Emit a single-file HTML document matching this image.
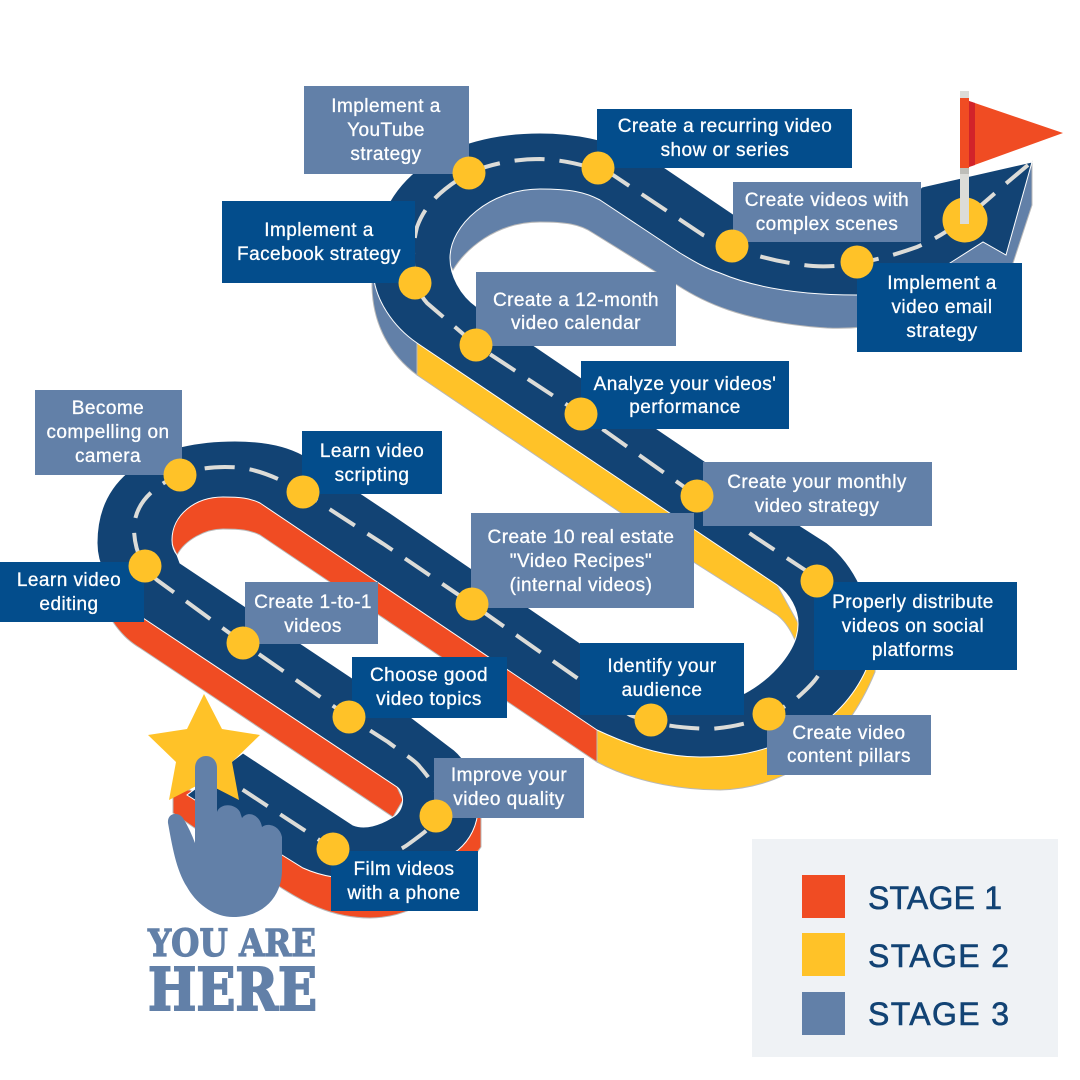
<!DOCTYPE html>
<html><head><meta charset="utf-8"><style>
html,body{margin:0;padding:0;background:#fff}
svg{display:block}
.t text{font-family:"Liberation Sans",sans-serif;font-size:19px;letter-spacing:.45px;fill:#fff;text-anchor:middle;stroke:#fff;stroke-width:.3px}
.l{fill:#6280a8}.d{fill:#034d8c}
.dot circle{fill:#ffc228}
</style></head><body>
<svg width="1080" height="1080" viewBox="0 0 1080 1080" xmlns="http://www.w3.org/2000/svg">
<rect width="1080" height="1080" fill="#fff"/>
<!-- side faces -->
<g stroke="#b9b9b9" stroke-width="1">
<path fill="#6280a8" d="M453 270C465 250 495 222 540 222C565 222 580 224 593 233L677 285C700 300 740 322 827 328C870 330 900 322 950 300L1013 263L1032 205L1032 162L983 230L860 280L720 260L680 245L600 192C585 185 565 184 540 184C488 184 446 225 448 262Z"/>
<path fill="#6280a8" d="M417 343L417 375C390 355 373 325 372 287L372 268L400 300Z"/>
<path fill="#ffc228" d="M417 343L417 375L695 563L777 615C785 621 792 632 797 645L798 623L777 585L695 530Z"/>
<path fill="#ffc228" d="M597 730L597 762C640 785 690 790 720 790C790 788 845 745 875 672L876 640L860 640L700 740Z"/>
<path fill="#f04c23" d="M597 725L597 762L260 535C250 530 240 529 223 529C205 529 185 540 177 555L170 540C170 512 195 493 223 493C240 493 250 494 262 500Z"/>
<path fill="#f04c23" d="M113 622C122 635 130 642 140 648L203 690L393 817L403 800L397 787L143 610Z"/>
<path fill="#f04c23" d="M173 790L173 813L280 887C300 900 330 918 370 918C400 918 440 905 481 847L481 815L470 800L300 860L190 790Z"/>
</g>
<!-- road -->
<path fill="#124374" stroke="#fff" stroke-width="1" d="M1032 162L922 187C870 240 790 250 733 214L665 168C620 140 575 133 540 133C450 133 373 175 373 268C373 300 395 328 417 343L695 530L777 585C790 594 798 610 798 623C799 650 770 680 745 693C700 712 640 685 580 643L390 513L303 455C285 445 260 441 235 441C160 441 97 470 97 543C97 575 120 600 143 618L397 787C405 793 405 810 393 817C380 825 365 830 353 825L243 753L187 795L282 855L303 868C340 885 400 885 458 850C470 840 478 825 478 807C478 780 465 757 450 747L412 718L180 563L177 555C173 550 172 545 172 540C172 515 195 497 223 497C240 497 250 498 260 503L597 730C640 750 670 757 700 757C725 757 745 755 767 748C795 740 815 730 833 715C855 695 873 665 873 640C873 605 855 565 827 543L802 527L580 377L477 307C460 295 450 275 450 258C450 225 490 189 540 189C570 189 585 192 600 200L680 253C695 262 705 268 720 273C760 290 810 295 857 295C890 295 925 280 950 263L983 242L1006 255Z"/>
<!-- dashes -->
<path fill="none" stroke="#dcdcd8" stroke-width="4" stroke-dasharray="30 15" d="M205 765L333 849C360 866 395 855 410 843C425 832 436 825 438 812C441 795 433 782 420 767C415 760 405 755 388 742L349 717L243 643L157 580C145 570 135 555 134 530C134 515 140 500 158 487C170 478 190 467 225 467C245 467 265 470 303 492L385 545L472 604L580 680L630 715C655 725 680 728 710 729C745 726 770 718 797 698C815 682 825 672 825 650C830 610 825 590 805 570L755 537L697 496L581 414L476 345L427 303C415 290 408 265 417 227C425 205 440 190 469 173C495 162 520 159 540 159C565 160 585 165 613 175L703 235C735 250 770 262 813 266C840 268 875 262 917 247C945 235 965 220 1003 186L1028 165"/>
<!-- flag base dot -->
<circle cx="965" cy="220" r="22.5" fill="#ffc228"/>
<!-- labels -->
<rect class="l" x="304" y="86" width="165" height="88"/>
<rect class="d" x="597" y="109" width="255" height="59"/>
<rect class="l" x="733" y="182" width="188" height="60"/>
<rect class="d" x="857" y="263" width="165" height="89"/>
<rect class="d" x="222" y="201" width="193" height="82"/>
<rect class="l" x="476" y="272" width="200" height="74"/>
<rect class="d" x="581" y="361" width="208" height="68"/>
<rect class="l" x="703" y="462" width="229" height="64"/>
<rect class="l" x="35" y="390" width="147" height="85"/>
<rect class="d" x="302" y="431" width="140" height="63"/>
<rect class="l" x="471" y="513" width="223" height="95"/>
<rect class="d" x="814" y="582" width="203" height="88"/>
<rect class="d" x="580" y="643" width="164" height="72"/>
<rect class="l" x="767" y="715" width="164" height="60"/>
<rect class="d" x="0" y="562" width="144" height="60"/>
<rect class="l" x="245" y="582" width="133" height="62"/>
<rect class="d" x="352" y="657" width="155" height="61"/>
<rect class="l" x="434" y="758" width="150" height="60"/>
<rect class="d" x="331" y="851" width="147" height="60"/>
<g class="t">
<text x="386" y="112">Implement a</text><text x="386" y="136">YouTube</text><text x="386" y="160">strategy</text>
<text x="725" y="132">Create a recurring video</text><text x="725" y="156">show or series</text>
<text x="827" y="206">Create videos with</text><text x="827" y="230">complex scenes</text>
<text x="942" y="289">Implement a</text><text x="942" y="313">video email</text><text x="942" y="337">strategy</text>
<text x="319" y="236">Implement a</text><text x="319" y="260">Facebook strategy</text>
<text x="576" y="306">Create a 12-month</text><text x="576" y="329">video calendar</text>
<text x="685" y="390">Analyze your videos'</text><text x="685" y="413">performance</text>
<text x="817" y="488">Create your monthly</text><text x="817" y="512">video strategy</text>
<text x="108" y="414">Become</text><text x="108" y="438">compelling on</text><text x="108" y="462">camera</text>
<text x="372" y="457">Learn video</text><text x="372" y="481">scripting</text>
<text x="581" y="543">Create 10 real estate</text><text x="581" y="567">"Video Recipes"</text><text x="581" y="591">(internal videos)</text>
<text x="913" y="608">Properly distribute</text><text x="913" y="632">videos on social</text><text x="913" y="656">platforms</text>
<text x="662" y="672">Identify your</text><text x="662" y="696">audience</text>
<text x="849" y="739">Create video</text><text x="849" y="762">content pillars</text>
<text x="69" y="586">Learn video</text><text x="69" y="610">editing</text>
<text x="313" y="608">Create 1-to-1</text><text x="313" y="632">videos</text>
<text x="429" y="681">Choose good</text><text x="429" y="705">video topics</text>
<text x="509" y="781">Improve your</text><text x="509" y="805">video quality</text>
<text x="404" y="875">Film videos</text><text x="404" y="899">with a phone</text>
</g>
<!-- dots -->
<g class="dot">
<circle cx="469" cy="173" r="16.5"/><circle cx="598" cy="168" r="16.5"/><circle cx="415" cy="283" r="16.5"/>
<circle cx="476" cy="345" r="16.5"/><circle cx="581" cy="414" r="16.5"/><circle cx="697" cy="496" r="16.5"/>
<circle cx="817" cy="581" r="16.5"/><circle cx="769" cy="714" r="16.5"/><circle cx="651" cy="720" r="16.5"/>
<circle cx="472" cy="604" r="16.5"/><circle cx="303" cy="492" r="16.5"/><circle cx="180" cy="475" r="16.5"/>
<circle cx="145" cy="566" r="16.5"/><circle cx="243" cy="643" r="16.5"/><circle cx="349" cy="717" r="16.5"/>
<circle cx="436" cy="816" r="16.5"/><circle cx="333" cy="849" r="16.5"/><circle cx="732" cy="246" r="16.5"/>
<circle cx="857" cy="262" r="16.5"/>
</g>
<!-- flag -->
<rect x="960" y="91" width="9" height="133" fill="#dcdcd8"/>
<rect x="960" y="98" width="9" height="70" fill="#f04c23"/>
<rect x="960" y="168" width="9" height="6" fill="#bdbdb8"/>
<path d="M969 101L1063 133L969 167Z" fill="#f04c23"/>
<path d="M969 101L975 103L975 165L969 167Z" fill="#d2232a"/>
<!-- star + hand -->
<path fill="#ffc228" d="M204 694L222 729L260 735L232 762L239 800L204 782L169 800L176 762L148 735L187 729Z"/>
<path fill="#6280a8" d="M195 843L195 768C195 752 217 752 217 768L217 812C220 803 235 803 240 812L242 818C248 810 260 815 262 827C268 822 280 826 282 837L282 870C282 895 265 917 233 917C215 917 197 905 187 887C176 870 172 845 168 823C167 813 178 811 183 818C188 826 192 835 195 843Z"/>
<!-- you are here -->
<g font-family="'DejaVu Serif',serif" font-weight="700" fill="#6280a8" stroke="#6280a8">
<text x="148" y="956" font-size="37" stroke-width="1.2" textLength="168" lengthAdjust="spacingAndGlyphs">YOU ARE</text>
<text x="148" y="1010" font-size="59" stroke-width="2" textLength="169" lengthAdjust="spacingAndGlyphs">HERE</text>
</g>
<!-- legend -->
<rect x="752" y="839" width="306" height="218" fill="#eff2f5"/>
<rect x="802" y="875" width="43" height="43" fill="#f04c23"/>
<rect x="802" y="933" width="43" height="43" fill="#ffc228"/>
<rect x="802" y="992" width="43" height="43" fill="#6280a8"/>
<g font-family="'Liberation Sans',sans-serif" font-size="32" fill="#124374" stroke="#124374" stroke-width=".6">
<text x="868" y="909" textLength="134">STAGE 1</text>
<text x="868" y="967" textLength="141">STAGE 2</text>
<text x="868" y="1025" textLength="141">STAGE 3</text>
</g>
</svg>
</body></html>
